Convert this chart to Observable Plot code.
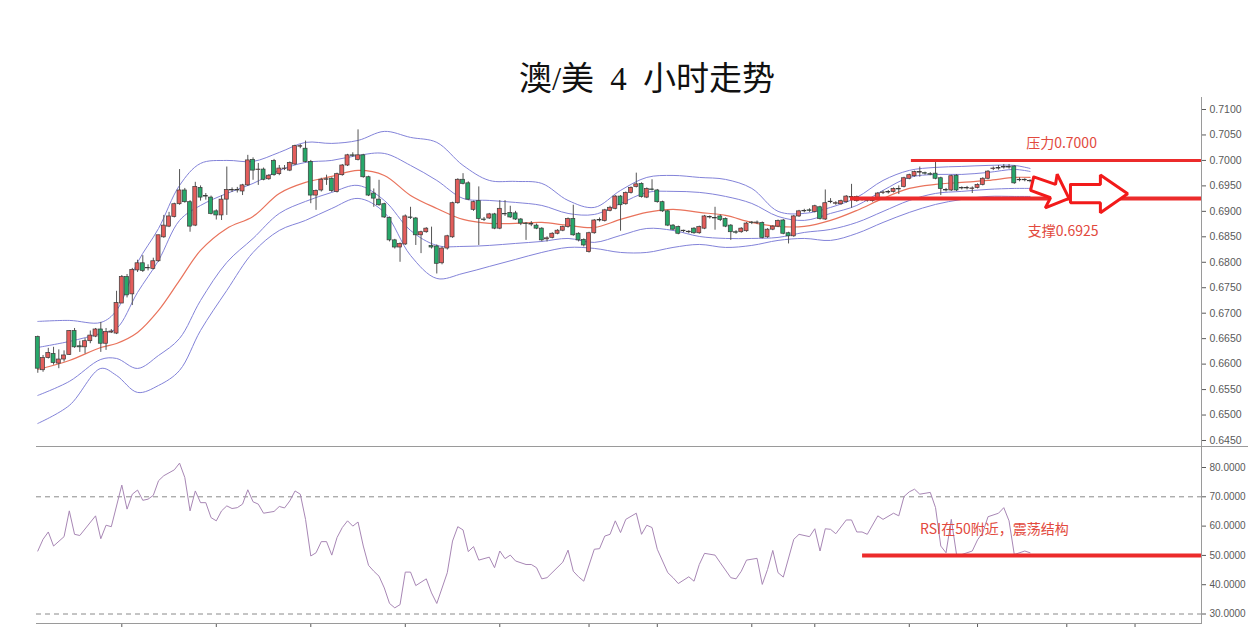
<!DOCTYPE html>
<html>
<head>
<meta charset="utf-8">
<script src="https://cdn.jsdelivr.net/npm/d3@7"></script>
<script src="https://cdn.jsdelivr.net/npm/@observablehq/plot@0.6"></script>
<style>
  html,body{margin:0;padding:0;background:#fff;}
  #wrap{position:relative;width:1253px;height:632px;overflow:hidden;background:#fff;}
  #titlebox{position:absolute;left:0;top:0;}
  #price{position:absolute;left:0;top:97px;}
  #rsi{position:absolute;left:0;top:447px;}
  .hl{position:absolute;height:1px;background:#9a9a9a;}
  .vl{position:absolute;width:1px;background:#9a9a9a;}
</style>
</head>
<body>
<div id="wrap">
  <svg id="titlebox" width="1253" height="97"><text x="647" y="90" text-anchor="middle" style="font-family:'Liberation Serif','Noto Sans CJK SC',serif;font-size:33px;word-spacing:8px;" fill="#111">澳/美 4 小时走势</text></svg>
  <div id="price"></div>
  <div id="rsi"></div>
  <div class="hl" style="left:36px;top:446px;width:1212px;"></div>
  <div class="hl" style="left:36px;top:623px;width:1166px;"></div>
  <div class="vl" style="left:1201px;top:97px;height:527px;"></div>
</div>
<script>
// ---------- data (4h candles, index = bar number) ----------
const open = [
.6653,.6588,.6612,.6620,.6601,.6609,.6618,.6665,.6635,.6633,
.6645,.6654,.6668,.6640,.6662,.6660,.6719,.6771,.6737,.6784,
.6798,.6788,.6787,.6802,.6849,.6870,.6889,.6914,.6941,.6918,
.6872,.6946,.6930,.6927,.6900,.6892,.6923,.6941,.6942,.6939,
.6951,.7001,.6981,.6982,.6963,.6999,.6973,.6983,.6980,.6992,
.7027,.7023,.6997,.6931,.6941,.6962,.6964,.6938,.6971,.6990,
.7010,.7001,.7010,.6967,.6935,.6923,.6914,.6887,.6843,.6829,
.6835,.6888,.6886,.6853,.6859,.6832,.6831,.6798,.6827,.6849,
.6916,.6962,.6955,.6903,.6920,.6884,.6886,.6894,.6866,.6895,
.6897,.6896,.6884,.6876,.6874,.6872,.6866,.6845,.6848,.6856,
.6862,.6869,.6885,.6856,.6844,.6820,.6857,.6882,.6881,.6901,
.6905,.6929,.6914,.6936,.6948,.6954,.6927,.6943,.6941,.6918,
.6900,.6872,.6869,.6862,.6860,.6866,.6857,.6866,.6889,.6887,
.6890,.6885,.6872,.6859,.6859,.6861,.6878,.6877,.6877,.6849,
.6864,.6870,.6882,.6857,.6851,.6890,.6900,.6902,.6899,.6908,
.6884,.6918,.6915,.6914,.6918,.6927,.6920,.6923,.6921,.6920,
.6926,.6936,.6937,.6938,.6943,.6948,.6964,.6969,.6976,.6975,
.6973,.6974,.6965,.6942,.6941,.6970,.6946,.6945,.6944,.6946,
.6952,.6964,.6983,.6984,.6987,.6986,.6988,.6961,.6962,.6960];
const high = [
.6655,.6617,.6631,.6633,.6628,.6626,.6666,.6670,.6645,.6650,
.6665,.6670,.6682,.6670,.6668,.6743,.6774,.6776,.6788,.6804,
.6813,.6795,.6808,.6853,.6892,.6898,.6916,.6982,.6945,.6921,
.6957,.6950,.6935,.6930,.6903,.6931,.6987,.6946,.6947,.6953,
.7010,.7005,.6994,.6985,.6972,.7002,.6990,.6990,.6997,.7030,
.7031,.7038,.7000,.6942,.6965,.6971,.6966,.6975,.6992,.7012,
.7015,.7060,.7012,.6969,.6944,.6961,.6916,.6889,.6845,.6838,
.6893,.6908,.6888,.6861,.6868,.6869,.6834,.6830,.6853,.6918,
.6964,.6974,.6958,.6920,.6948,.6888,.6896,.6896,.6921,.6921,
.6910,.6900,.6886,.6878,.6880,.6875,.6868,.6850,.6858,.6864,
.6871,.6887,.6912,.6858,.6846,.6859,.6884,.6887,.6904,.6910,
.6931,.6931,.6938,.6948,.6975,.6956,.6946,.6962,.6943,.6920,
.6902,.6874,.6871,.6863,.6862,.6868,.6871,.6892,.6891,.6908,
.6893,.6887,.6874,.6862,.6868,.6878,.6880,.6881,.6879,.6866,
.6872,.6883,.6884,.6859,.6892,.6902,.6904,.6905,.6912,.6910,
.6942,.6925,.6919,.6922,.6931,.6953,.6930,.6926,.6925,.6926,
.6937,.6940,.6941,.6946,.6950,.6967,.6973,.6979,.6987,.6977,
.6976,.6997,.6967,.6945,.6971,.6972,.6948,.6949,.6948,.6954,
.6966,.6980,.6987,.6990,.6992,.6992,.6990,.6966,.6964,.6962];
const low = [
.6582,.6584,.6610,.6598,.6591,.6604,.6617,.6631,.6623,.6620,
.6640,.6652,.6623,.6627,.6660,.6658,.6719,.6730,.6715,.6780,
.6780,.6783,.6785,.6800,.6847,.6868,.6887,.6912,.6916,.6859,
.6870,.6920,.6922,.6893,.6883,.6882,.6892,.6937,.6936,.6931,
.6949,.6961,.6951,.6960,.6961,.6969,.6970,.6980,.6978,.6990,
.7023,.6995,.6915,.6902,.6938,.6951,.6937,.6936,.6969,.6988,
.7006,.6999,.6965,.6929,.6908,.6910,.6886,.6840,.6826,.6800,
.6833,.6884,.6833,.6817,.6857,.6826,.6777,.6795,.6824,.6847,
.6914,.6952,.6921,.6900,.6833,.6880,.6884,.6864,.6864,.6890,
.6886,.6882,.6872,.6843,.6870,.6864,.6840,.6840,.6846,.6854,
.6860,.6867,.6851,.6840,.6830,.6818,.6855,.6879,.6879,.6899,
.6903,.6861,.6912,.6934,.6946,.6926,.6925,.6940,.6916,.6898,
.6870,.6862,.6854,.6858,.6856,.6855,.6855,.6864,.6885,.6863,
.6880,.6868,.6843,.6855,.6857,.6859,.6874,.6874,.6846,.6847,
.6862,.6868,.6854,.6836,.6849,.6888,.6897,.6898,.6897,.6883,
.6882,.6915,.6912,.6912,.6916,.6906,.6918,.6920,.6918,.6918,
.6924,.6933,.6934,.6936,.6933,.6946,.6962,.6967,.6967,.6971,
.6970,.6962,.6931,.6938,.6939,.6939,.6942,.6942,.6935,.6944,
.6950,.6962,.6980,.6981,.6983,.6983,.6953,.6958,.6958,.6956];
const close = [
.6591,.6612,.6622,.6602,.6609,.6617,.6665,.6633,.6633,.6645,
.6656,.6668,.6640,.6663,.6664,.6720,.6771,.6735,.6785,.6798,
.6783,.6789,.6802,.6853,.6872,.6890,.6914,.6941,.6918,.6870,
.6948,.6927,.6929,.6895,.6892,.6923,.6942,.6942,.6941,.6951,
.7000,.6980,.6982,.6962,.6970,.6971,.6984,.6984,.6995,.7028,
.7028,.6997,.6931,.6940,.6962,.6963,.6940,.6973,.6990,.7010,
.7009,.7010,.6967,.6931,.6925,.6912,.6888,.6843,.6829,.6836,
.6890,.6887,.6853,.6859,.6866,.6829,.6797,.6827,.6851,.6916,
.6962,.6954,.6923,.6918,.6885,.6883,.6894,.6866,.6905,.6894,
.6888,.6884,.6876,.6875,.6875,.6866,.6843,.6847,.6856,.6862,
.6869,.6885,.6853,.6843,.6833,.6857,.6882,.6883,.6902,.6907,
.6929,.6912,.6936,.6946,.6953,.6928,.6944,.6942,.6918,.6900,
.6872,.6864,.6856,.6861,.6859,.6857,.6869,.6890,.6888,.6886,
.6883,.6870,.6859,.6858,.6866,.6876,.6877,.6878,.6848,.6864,
.6870,.6881,.6856,.6851,.6890,.6900,.6901,.6901,.6910,.6885,
.6916,.6919,.6916,.6920,.6929,.6928,.6928,.6922,.6922,.6923,
.6935,.6937,.6938,.6944,.6944,.6965,.6971,.6977,.6977,.6974,
.6972,.6964,.6944,.6941,.6969,.6941,.6945,.6946,.6945,.6952,
.6964,.6978,.6984,.6985,.6986,.6987,.6955,.6962,.6961,.6959];

// Bollinger-style bands at these bars
const bandIdx = [0,6,12,15,19,23,27,31,36,41,46,51,56,61,66,71,76,81,86,91,96,101,106,111,116,121,126,131,136,141,146,151,156,161,166,171,176,181,186,189];
const bbUpper2 = [.66838,.66858,.66818,.67054,.67997,.68664,.69509,.69941,.70000,.69980,.70157,.70354,.70334,.70393,.70570,.70452,.70354,.69902,.69607,.69588,.69548,.69214,.69077,.69411,.69666,.69705,.69666,.69627,.69450,.69000,.68959,.69077,.69273,.69607,.69804,.69863,.69882,.69902,.69902,.69843];
const bbUpper1 = [.66327,.66445,.66602,.66700,.67408,.68036,.68822,.69116,.69352,.69548,.69804,.69961,.70000,.70098,.70137,.69902,.69607,.69254,.69214,.69175,.69116,.68959,.68939,.69155,.69372,.69392,.69372,.69293,.69155,.68900,.68822,.68959,.69116,.69411,.69666,.69725,.69725,.69764,.69823,.69784];
const bbMid    = [.65895,.66072,.66327,.66406,.66622,.67054,.67643,.68232,.68664,.68900,.69352,.69568,.69686,.69804,.69705,.69313,.69057,.68841,.68763,.68763,.68782,.68723,.68684,.68841,.68979,.69038,.68979,.68920,.68782,.68704,.68704,.68822,.69018,.69254,.69450,.69529,.69568,.69607,.69666,.69666];
const bbLower1 = [.65385,.65660,.66092,.66111,.65915,.66170,.66504,.67250,.67997,.68468,.68959,.69195,.69372,.69509,.69214,.68625,.68331,.68311,.68331,.68370,.68409,.68468,.68390,.68527,.68664,.68625,.68507,.68468,.68468,.68488,.68586,.68645,.68782,.68998,.69214,.69352,.69392,.69431,.69450,.69450];
const bbLower2 = [.64835,.65188,.65915,.65777,.65444,.65581,.65876,.66661,.67447,.68193,.68625,.68822,.69057,.69254,.68979,.68134,.67682,.67781,.67918,.68056,.68193,.68291,.68272,.68193,.68193,.68291,.68350,.68291,.68331,.68429,.68468,.68429,.68566,.68782,.68979,.69136,.69234,.69293,.69293,.69293];

// RSI vertices [bar, value]
const rsiPoints = [
[0,51.5],[1,55.5],[2,58.0],[3,53.2],[5,56.4],[6,65.2],[7,57.2],[8,56.8],[11,63.5],[12,55.7],
[13,60.3],[14,59.8],[16,74.0],[17,65.8],[18,70.9],[19,72.3],[20,68.8],[21,69.2],[22,70.5],[23,75.5],
[24,77.2],[26,79.2],[27,81.5],[28,76.6],[29,65.2],[30,72.0],[31,68.0],[32,68.0],[33,62.9],[34,61.8],
[35,65.2],[36,66.9],[37,66.0],[38,66.3],[39,67.5],[40,72.4],[41,68.3],[42,67.5],[43,64.4],[45,65.0],
[46,66.7],[47,66.2],[48,68.6],[49,72.0],[50,70.9],[51,62.3],[52,49.8],[53,50.9],[54,54.7],[55,54.7],
[56,50.1],[57,56.1],[58,59.5],[59,61.8],[60,60.0],[61,61.4],[62,53.2],[63,46.6],[64,44.6],[65,42.9],
[66,38.9],[67,33.6],[68,32.1],[69,33.2],[70,44.3],[71,44.3],[72,39.7],[74,42.0],[75,37.2],[76,33.6],
[78,44.1],[79,54.9],[80,59.8],[81,58.7],[82,51.3],[83,53.0],[84,48.4],[86,49.4],[87,45.8],[88,51.5],
[89,48.9],[90,50.1],[91,48.1],[93,46.9],[94,46.9],[95,45.8],[96,42.0],[97,42.4],[100,47.7],[101,51.8],
[102,44.6],[103,42.7],[104,41.2],[106,52.1],[107,52.3],[108,56.6],[109,57.2],[110,61.8],[111,57.8],[112,62.3],
[114,64.4],[115,57.2],[116,60.3],[117,59.5],[118,52.1],[120,44.1],[121,42.4],[122,40.4],[124,42.7],[125,41.2],
[126,46.9],[127,50.7],[129,50.1],[130,47.5],[132,42.4],[133,42.0],[134,44.6],[135,48.4],[137,49.0],[138,40.1],
[139,45.2],[140,51.7],[141,44.1],[142,42.6],[144,55.5],[145,57.2],[147,56.4],[148,59.1],[149,51.5],[150,59.1],
[151,58.9],[152,57.4],[154,62.1],[155,62.1],[156,58.0],[157,58.0],[158,57.2],[160,63.5],[161,62.3],[163,64.4],
[164,63.5],[165,70.1],[166,71.7],[167,72.6],[168,70.9],[170,71.5],[171,66.3],[172,53.2],[173,50.9],[174,62.3],
[175,50.3],[176,50.3],[178,51.5],[179,55.3],[180,57.8],[181,63.2],[183,64.4],[184,66.3],[185,61.8],[186,50.3],
[188,51.5],[189,50.9]];

// axes / levels / annotations
const priceTicks = [0.6450,0.6500,0.6550,0.6600,0.6650,0.6700,0.6750,0.6800,0.6850,0.6900,0.6950,0.7000,0.7050,0.7100];
const rsiTicks = [30,40,50,60,70,80];
const rsiGuides = [70,30];
const timeTicks = [16,34,52,70,88,105,118,136,148,166,179,196,209];
const resistance = [{value:0.7000, from:166.4}];
const support = [{value:0.6925, from:154.8}];
const rsiLevel = [{value:50, from:157.1}];
const priceNotes = [{text:"压力0.7000", i:195.0, p:0.70334},{text:"支撑0.6925", i:195.3, p:0.68606}];
const rsiNotes = [{text:"RSI在50附近，震荡结构", i:182.2, v:58.9}];
const arrowDown = [[189.7,.69676],[193.85,.69529],[194.17,.69729],[196.42,.69254],[191.9,.69069],[192.9,.69267],[189.1,.69411],[189.7,.69676]];
const arrowRight = [[196.7,.69529],[202.4,.69529],[202.4,.69715],[207.6,.69346],[202.4,.68971],[202.4,.69169],[196.7,.69169],[196.7,.69529]];

// ---------- build ----------
const xDomain = [-0.2476, 221.66];
const candles = open.map((o,k)=>({i:k, o, h:high[k], l:low[k], c:close[k]}));
const bands = bandIdx.map((i,k)=>({i, u2:bbUpper2[k], u1:bbUpper1[k], m:bbMid[k], l1:bbLower1[k], l2:bbLower2[k]}));
const rsiRows = rsiPoints.map(([i,v])=>({i,v}));
const blue = "#8383d9";
const redLine = "#ec2b2b";
const noteColor = "#e2493d";
const baseStyle = {fontFamily:"'Liberation Sans', Arial, sans-serif", color:"#5a5a5a", background:"transparent", overflow:"visible"};

const pricePlot = Plot.plot({
  width:1253, height:350,
  marginLeft:36, marginRight:52, marginTop:0, marginBottom:0,
  x:{domain:xDomain, axis:null},
  y:{domain:[0.643625, 0.712357]},
  style:{...baseStyle, fontSize:"10.5px"},
  marks:[
    Plot.axisY(priceTicks, {anchor:"right", tickFormat:d3.format(".4f"), tickSize:4, tickPadding:4, label:null}),
    ...["u2","u1","l1","l2"].map(k=>Plot.line(bands, {x:"i", y:k, stroke:blue, strokeWidth:1, curve:"catmull-rom"})),
    Plot.line(bands, {x:"i", y:"m", stroke:"#e9735c", strokeWidth:1.2, curve:"catmull-rom"}),
    Plot.ruleX(candles, {x:"i", y1:"l", y2:"h", stroke:"#555", strokeWidth:1}),
    Plot.rect(candles, {x1:d=>d.i-0.38, x2:d=>d.i+0.38, y1:"o", y2:"c",
      fill:d=>d.c>=d.o ? "#e35d5b" : "#27a86a", stroke:"#3a3a3a", strokeWidth:0.7}),
    Plot.ruleY(resistance, {y:"value", x1:"from", x2:()=>xDomain[1], stroke:redLine, strokeWidth:3}),
    Plot.ruleY(support, {y:"value", x1:"from", x2:()=>xDomain[1], stroke:redLine, strokeWidth:4}),
    Plot.line(arrowDown, {x:d=>d[0], y:d=>d[1], stroke:"#f21a1a", strokeWidth:3, fill:"#fff", strokeLinejoin:"miter"}),
    Plot.line(arrowRight, {x:d=>d[0], y:d=>d[1], stroke:"#f21a1a", strokeWidth:3, fill:"#fff", strokeLinejoin:"miter"}),
    Plot.text(priceNotes, {x:"i", y:"p", text:"text", fill:noteColor, fontSize:14, fontFamily:"'Noto Sans CJK SC', sans-serif"})
  ]
});
document.getElementById("price").appendChild(pricePlot);

const rsiPlot = Plot.plot({
  width:1253, height:185,
  marginLeft:36, marginRight:52, marginTop:0, marginBottom:9,
  x:{domain:xDomain},
  y:{domain:[26.76, 86.83]},
  style:{...baseStyle, fontSize:"10px"},
  marks:[
    Plot.axisY(rsiTicks, {anchor:"right", tickFormat:d3.format(".4f"), tickSize:4, tickPadding:4, label:null}),
    Plot.axisX(timeTicks, {anchor:"bottom", tickSize:4, tickFormat:()=>"", label:null}),
    Plot.ruleY(rsiGuides, {stroke:"#8a8a8a", strokeWidth:1, strokeDasharray:"5,4"}),
    Plot.line(rsiRows, {x:"i", y:"v", stroke:"#a887b5", strokeWidth:1}),
    Plot.ruleY(rsiLevel, {y:"value", x1:"from", x2:()=>xDomain[1], stroke:redLine, strokeWidth:4}),
    Plot.text(rsiNotes, {x:"i", y:"v", text:"text", fill:noteColor, fontSize:14, fontFamily:"'Noto Sans CJK SC', sans-serif"})
  ]
});
document.getElementById("rsi").appendChild(rsiPlot);
</script>
</body>
</html>
